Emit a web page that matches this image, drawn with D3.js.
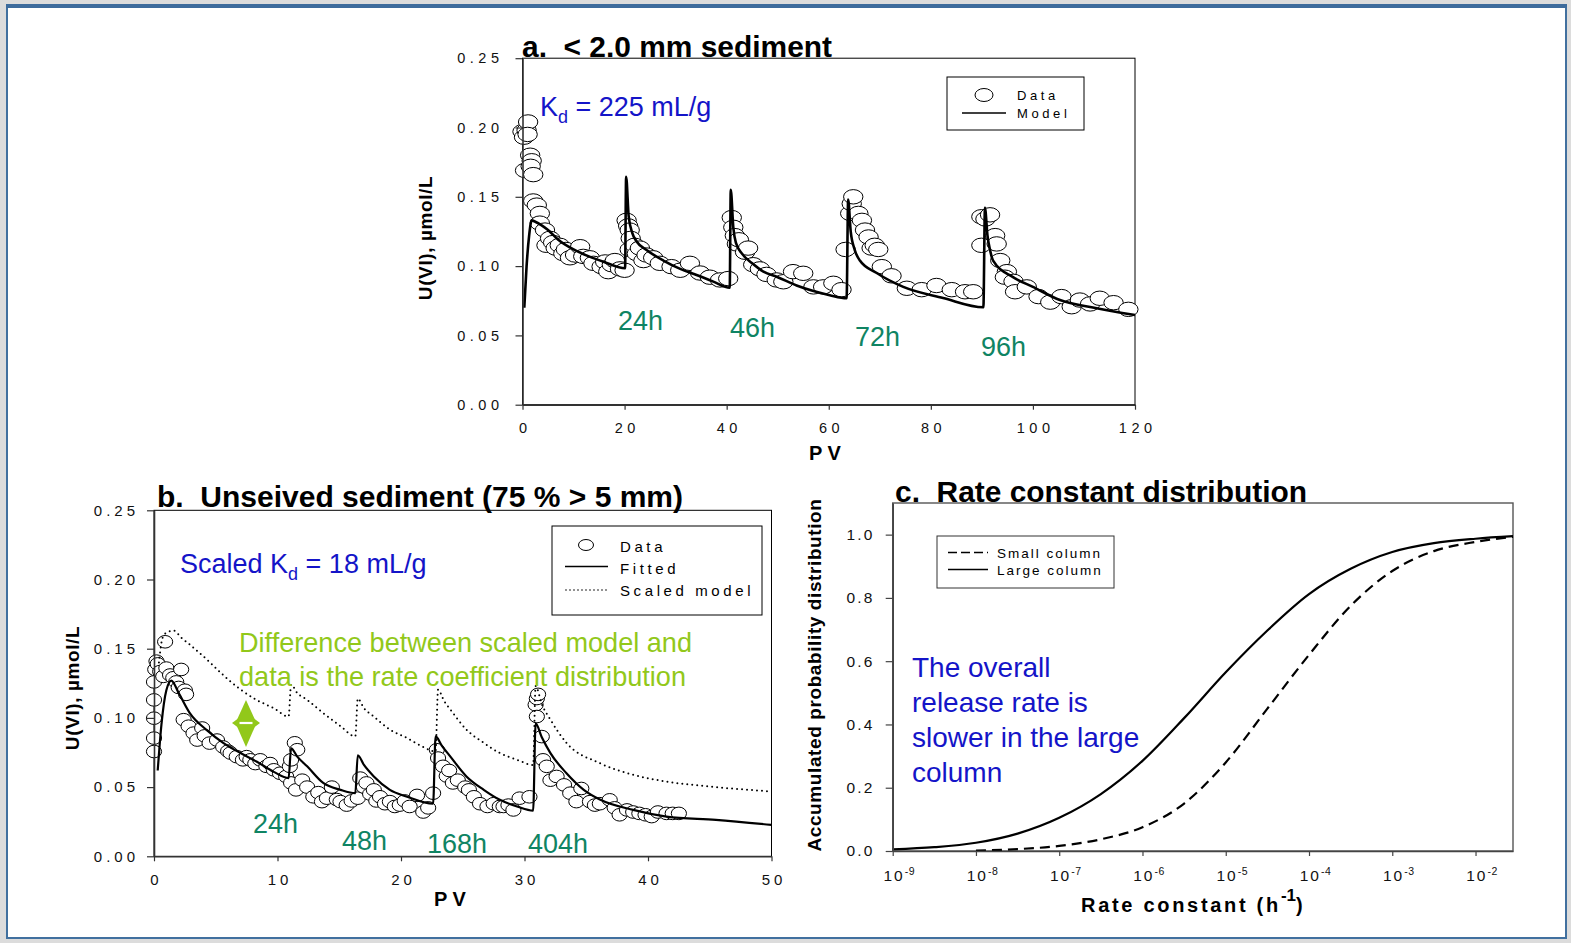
<!DOCTYPE html>
<html>
<head>
<meta charset="utf-8">
<script src="https://cdn.jsdelivr.net/npm/d3@7"></script>
<style>
  body { margin: 0; background: #dcdcdc; }
  svg { display: block; font-family: "Liberation Sans", Arial, sans-serif; }
  text { white-space: pre; }
</style>
</head>
<body>
<div id="chart"></div>
<script>
// ---- panel a: < 2.0 mm sediment ----
const aData = [
  [0.0,0.197],[0.3,0.193],[0.5,0.169],[0.8,0.198],[1.1,0.204],[1.0,0.195],[1.5,0.180],[1.8,0.176],
  [1.6,0.172],[2.1,0.166],[2.1,0.147],[2.8,0.144],[3.4,0.138],[3.4,0.131],[4.4,0.126],[4.7,0.115],
  [5.4,0.120],[6.0,0.117],[6.5,0.113],[7.3,0.115],[8.0,0.109],[8.5,0.112],[9.3,0.106],[10.3,0.108],
  [11.3,0.114],[11.9,0.107],[13.2,0.106],[13.9,0.102],[15.5,0.0996],[16.2,0.103],[16.8,0.096],
  [17.5,0.101],[18.1,0.104],[19.1,0.098],[20.0,0.097],
  [20.4,0.133],[20.7,0.129],[21.0,0.126],[21.2,0.120],[21.0,0.112],[22.0,0.115],[22.4,0.109],
  [23.0,0.113],[23.7,0.104],[24.3,0.108],[25.6,0.106],[26.9,0.102],[29.2,0.0996],[30.9,0.097],
  [32.8,0.102],[34.8,0.095],[36.7,0.092],[38.7,0.090],[40.3,0.091],
  [41.0,0.135],[41.3,0.128],[41.6,0.122],[42.0,0.116],[42.4,0.119],[43.6,0.110],[44.2,0.113],
  [45.2,0.101],[46.5,0.098],[47.8,0.094],[49.8,0.090],[51.1,0.0887],[53.0,0.096],[55.0,0.0948],
  [57.0,0.085],[58.9,0.085],[60.9,0.0876],[62.5,0.083],[63.3,0.112],
  [64.2,0.138],[64.5,0.145],[64.8,0.150],[65.8,0.138],[66.5,0.133],[67.1,0.126],[67.8,0.121],
  [68.4,0.113],[69.0,0.115],[69.7,0.112],[70.4,0.0996],[72.3,0.093],[75.3,0.084],[78.2,0.083],
  [81.1,0.086],[84.1,0.083],[86.7,0.0815],[88.3,0.0815],
  [89.9,0.1356],[90.7,0.134],[91.6,0.137],[89.9,0.115],[92.6,0.122],[92.9,0.116],[93.6,0.104],
  [94.9,0.096],[94.5,0.092],[96.2,0.089],[96.5,0.0815],[98.8,0.085],[101.1,0.078],[103.4,0.074],
  [105.6,0.078],[107.6,0.0707],[109.2,0.0755],[111.2,0.0727],[113.1,0.0768],[115.8,0.0736],[118.7,0.0688]
];
const aModel = [
  [0.35,0.07],[0.8,0.10],[1.3,0.122],[1.8,0.133],[2.5,0.132],[5,0.126],[7,0.119],[10,0.112],
  [13,0.107],[16,0.103],[20.1,0.0985],[20.3,0.1645],[20.8,0.136],[21.5,0.124],[22.4,0.1176],
  [24.3,0.1116],[27.6,0.104],[30.9,0.098],[34.1,0.0936],[37.4,0.0888],[40.6,0.0844],
  [40.8,0.155],[41.3,0.128],[41.8,0.117],[43,0.109],[45,0.102],[47.2,0.096],[50,0.092],
  [53.7,0.086],[57,0.082],[60.2,0.079],[63.5,0.0768],[63.8,0.148],[64.3,0.125],[65.1,0.1116],
  [66.1,0.104],[69.4,0.095],[74.6,0.085],[82.4,0.077],[90.3,0.0703],[90.6,0.142],[91.1,0.122],
  [91.6,0.1116],[92.2,0.104],[96.1,0.092],[100,0.085],[105.3,0.0755],[112,0.070],[120,0.0647]
];
const aXTicks = [0, 20, 40, 60, 80, 100, 120];
const aYTicks = [0, 0.05, 0.10, 0.15, 0.20, 0.25];
const aPulses = ["24h", "46h", "72h", "96h"];

// ---- panel b: unseived sediment ----
const bData = [
  [0.0,0.0757],[0.0,0.0854],[0.0,0.0998],[0.0,0.113],[0.0,0.126],[0.1,0.135],[0.2,0.141],[0.3,0.139],
  [0.9,0.155],[0.5,0.1335],[0.75,0.130],[1.0,0.136],[1.3,0.131],[1.56,0.129],[1.8,0.126],[2.2,0.135],
  [2.0,0.122],[2.5,0.120],[2.6,0.117],[2.4,0.0987],[2.8,0.094],[3.2,0.089],[3.5,0.084],[3.9,0.0927],
  [4.1,0.087],[4.5,0.0818],[5.1,0.084],[5.6,0.079],[6.0,0.076],[6.2,0.0746],[6.7,0.072],[7.2,0.0697],
  [7.5,0.072],[7.8,0.0697],[8.2,0.067],[8.6,0.0697],[9.1,0.065],[9.4,0.067],[9.7,0.0625],[10.2,0.060],
  [10.7,0.0577],[11.0,0.065],[11.1,0.0697],[11.4,0.082],[11.6,0.077],[11.1,0.053],[11.5,0.048],
  [12.0,0.055],[12.4,0.050],[12.9,0.043],[13.3,0.046],[13.6,0.0395],[14.0,0.042],[14.4,0.050],
  [14.8,0.041],[15.1,0.0395],[15.6,0.037],[16.0,0.040],[16.5,0.042],[16.7,0.0565],[17.0,0.050],
  [17.2,0.053],[17.5,0.045],[17.8,0.048],[18.0,0.040],[18.3,0.043],[18.7,0.038],[19.1,0.0395],
  [19.5,0.036],[19.9,0.037],[20.3,0.040],[20.7,0.036],[21.3,0.044],[21.8,0.032],[22.2,0.035],
  [22.6,0.0456],[22.9,0.077],[23.0,0.071],[23.4,0.065],[23.7,0.058],[23.9,0.062],[24.2,0.053],
  [24.6,0.055],[25.2,0.050],[25.5,0.048],[25.9,0.043],[26.4,0.038],[27.0,0.036],[27.5,0.038],
  [28.0,0.036],[28.3,0.036],[28.7,0.037],[29.1,0.0335],[29.6,0.042],[30.4,0.043],[30.9,0.1095],
  [31.0,0.114],[31.1,0.117],[31.0,0.101],[31.4,0.0865],[31.5,0.0697],[31.8,0.065],[32.1,0.055],
  [32.6,0.0577],[33.2,0.0516],[33.7,0.0456],[34.2,0.0395],[34.6,0.049],[35.3,0.0395],[35.7,0.037],
  [36.1,0.038],[36.9,0.0408],[37.3,0.035],[37.7,0.030],[38.3,0.0335],[38.8,0.032],[39.3,0.031],
  [39.8,0.030],[40.3,0.0287],[40.8,0.032],[41.5,0.031],[42.0,0.031],[42.5,0.031]
];
const bFitted = [
  [0.3,0.062],[0.6,0.095],[1.0,0.12],[1.4,0.127],[2.0,0.118],[2.9,0.1035],[4.3,0.091],[5.6,0.082],
  [7,0.0746],[8.3,0.0685],[9.7,0.061],[10.9,0.0565],[11.1,0.078],[11.6,0.072],[12.4,0.065],
  [13.7,0.053],[15.1,0.048],[16.3,0.0456],[16.5,0.073],[17.0,0.066],[17.8,0.0577],[19.1,0.048],
  [20.5,0.043],[22.6,0.038],[22.8,0.0866],[23.3,0.080],[24,0.072],[25.3,0.0577],[26.7,0.048],
  [28,0.0408],[29.4,0.036],[30.7,0.033],[30.9,0.096],[31.4,0.086],[32.1,0.0746],[33.4,0.060],
  [34.8,0.048],[36.1,0.041],[38.8,0.0335],[41.5,0.0287],[45.5,0.0263],[50,0.0227]
];
const bScaled = [
  [0.4,0.140],[0.7,0.158],[1.1,0.162],[1.6,0.163],[2.2,0.158],[2.9,0.153],[4.3,0.142],[5.6,0.131],
  [7,0.1206],[8.3,0.113],[9.7,0.107],[10.9,0.101],[11.1,0.124],[11.6,0.118],[12.4,0.113],
  [13.7,0.1035],[15.1,0.094],[16.3,0.0866],[16.5,0.114],[17.0,0.107],[17.8,0.101],[19.1,0.0915],
  [20.5,0.0854],[21.8,0.079],[22.8,0.0757],[23.0,0.1204],[23.5,0.112],[24,0.106],[25.3,0.0915],
  [26.7,0.082],[28,0.0746],[29.4,0.0697],[30.7,0.066],[30.9,0.123],[31.4,0.11],[32.1,0.0987],
  [33.4,0.082],[36.1,0.0673],[38.8,0.0589],[41.5,0.054],[45.5,0.050],[50,0.0468]
];
const bXTicks = [0, 10, 20, 30, 40, 50];
const bYTicks = [0, 0.05, 0.10, 0.15, 0.20, 0.25];
const bPulses = ["24h", "48h", "168h", "404h"];

// ---- panel c: rate constant distribution (log10 k, cumulative) ----
const cLargeLogK = [-9,-8.5,-8,-7.5,-7,-6.5,-6,-5.5,-5,-4.5,-4,-3.5,-3,-2.5,-2,-1.55];
const cLarge     = [0.005,0.012,0.026,0.055,0.105,0.18,0.285,0.42,0.565,0.697,0.812,0.892,0.945,0.973,0.987,0.995];
const cSmallLogK = [-8,-7.5,-7,-6.5,-6,-5.5,-5,-4.5,-4,-3.5,-3,-2.5,-2,-1.55];
const cSmall     = [0.001,0.006,0.016,0.037,0.075,0.15,0.28,0.45,0.62,0.775,0.885,0.948,0.977,0.993];
const cXTicks = [1e-9, 1e-8, 1e-7, 1e-6, 1e-5, 1e-4, 1e-3, 1e-2];
const cYTicks = [0, 0.2, 0.4, 0.6, 0.8, 1.0];

const blue = "#1414c8", teal = "#0f8463", lime = "#92c81a";

const svg = d3.select("#chart").append("svg")
  .attr("width", 1571)
  .attr("height", 943);

// slide frame
svg.append("rect")
  .attr("x", 7).attr("y", 6).attr("width", 1559).attr("height", 932)
  .attr("fill", "#fff").attr("stroke", "#41709f").attr("stroke-width", 2);
svg.append("rect")
  .attr("x", 6).attr("y", 4).attr("width", 1561).attr("height", 4)
  .attr("fill", "#3d6b9c");

function styleAxis(g, size, ls, color) {
  g.attr("font-family", null).attr("font-size", null);
  g.select(".domain").attr("stroke", color).attr("stroke-width", 1.6);
  g.selectAll(".tick line").attr("stroke", color).attr("stroke-width", 1.2);
  g.selectAll(".tick text").attr("font-size", size).attr("letter-spacing", ls).attr("fill", "#111");
}

function addText(x, y, str, opts) {
  const t = svg.append("text").attr("x", x).attr("y", y).text(str)
    .attr("font-size", opts.size || 20)
    .attr("fill", opts.color || "#000");
  if (opts.bold) t.attr("font-weight", "bold");
  if (opts.len) t.attr("textLength", opts.len).attr("lengthAdjust", "spacingAndGlyphs");
  if (opts.ls) t.attr("letter-spacing", opts.ls);
  if (opts.anchor) t.attr("text-anchor", opts.anchor);
  return t;
}

function yTitle(x, y, str, size) {
  svg.append("text")
    .attr("transform", "translate(" + x + "," + y + ") rotate(-90)")
    .attr("text-anchor", "middle")
    .attr("font-weight", "bold")
    .attr("font-size", size)
    .attr("letter-spacing", 0.6)
    .text(str);
}

// ================= panel a =================
const ax = d3.scaleLinear().domain([0, 120]).range([522.5, 1135]);
const ay = d3.scaleLinear().domain([0, 0.25]).range([404.7, 58.2]);

svg.append("rect")
  .attr("x", ax(0)).attr("y", ay(0.25))
  .attr("width", ax(120) - ax(0)).attr("height", ay(0) - ay(0.25))
  .attr("fill", "none").attr("stroke", "#000").attr("stroke-width", 1);

svg.append("g").selectAll("ellipse").data(aData).enter()
  .append("ellipse")
  .attr("cx", d => ax(d[0])).attr("cy", d => ay(d[1]))
  .attr("rx", 9.7).attr("ry", 7.2)
  .attr("fill", "#fff").attr("stroke", "#000").attr("stroke-width", 1);

svg.append("path").datum(aModel)
  .attr("fill", "none").attr("stroke", "#000").attr("stroke-width", 2.6)
  .attr("d", d3.line().x(d => ax(d[0])).y(d => ay(d[1])).curve(d3.curveMonotoneX));

const aLeft = svg.append("g").attr("transform", "translate(" + ax(0) + ",0)")
  .call(d3.axisLeft(ay).tickValues(aYTicks).tickSize(7).tickSizeOuter(0).tickPadding(12)
    .tickFormat(d3.format(".2f")));
styleAxis(aLeft, 14.5, 4.5, "#333");
const aBottom = svg.append("g").attr("transform", "translate(0," + ay(0) + ")")
  .call(d3.axisBottom(ax).tickValues(aXTicks).tickSize(5).tickSizeOuter(0).tickPadding(13));
styleAxis(aBottom, 14.5, 4.5, "#333");
aBottom.selectAll(".tick text").attr("dx", 2.2);

addText(522, 57, "a.  < 2.0 mm sediment", { size: 30, bold: true, len: 310 });
yTitle(432, 238, "U(VI), µmol/L", 19);
addText(825, 460, "P V", { size: 20, bold: true, anchor: "middle" });

const kdA = addText(540, 116, "K", { size: 27, color: blue });
kdA.append("tspan").attr("font-size", 18).attr("dy", 7).text("d");
kdA.append("tspan").attr("dy", -7).text(" = 225 mL/g");

[[618, 330], [730, 337], [855, 346], [981, 356]].forEach((p, i) =>
  addText(p[0], p[1], aPulses[i], { size: 28, color: teal, len: 45 }));

// legend a
svg.append("rect").attr("x", 947).attr("y", 77).attr("width", 137).attr("height", 53)
  .attr("fill", "#fff").attr("stroke", "#000").attr("stroke-width", 1);
svg.append("ellipse").attr("cx", 984).attr("cy", 95).attr("rx", 9).attr("ry", 6.5)
  .attr("fill", "#fff").attr("stroke", "#000");
svg.append("line").attr("x1", 962).attr("x2", 1006).attr("y1", 113).attr("y2", 113)
  .attr("stroke", "#000").attr("stroke-width", 1.6);
addText(1017, 100, "Data", { size: 13, ls: 3.6 });
addText(1017, 118, "Model", { size: 13, ls: 3.6 });

// ================= panel b =================
const bx = d3.scaleLinear().domain([0, 50]).range([154, 771.5]);
const by = d3.scaleLinear().domain([0, 0.25]).range([856.3, 510.3]);

svg.append("rect")
  .attr("x", bx(0)).attr("y", by(0.25))
  .attr("width", bx(50) - bx(0)).attr("height", by(0) - by(0.25))
  .attr("fill", "none").attr("stroke", "#000").attr("stroke-width", 1);

svg.append("g").selectAll("ellipse").data(bData).enter()
  .append("ellipse")
  .attr("cx", d => bx(d[0])).attr("cy", d => by(d[1]))
  .attr("rx", 7.6).attr("ry", 6.3)
  .attr("fill", "#fff").attr("stroke", "#000").attr("stroke-width", 1);

svg.append("path").datum(bScaled)
  .attr("fill", "none").attr("stroke", "#000").attr("stroke-width", 2)
  .attr("stroke-dasharray", "0,5").attr("stroke-linecap", "round")
  .attr("d", d3.line().x(d => bx(d[0])).y(d => by(d[1])).curve(d3.curveMonotoneX));

svg.append("path").datum(bFitted)
  .attr("fill", "none").attr("stroke", "#000").attr("stroke-width", 2.2)
  .attr("d", d3.line().x(d => bx(d[0])).y(d => by(d[1])).curve(d3.curveMonotoneX));

const bLeft = svg.append("g").attr("transform", "translate(" + bx(0) + ",0)")
  .call(d3.axisLeft(by).tickValues(bYTicks).tickSize(7).tickSizeOuter(0).tickPadding(8)
    .tickFormat(d3.format(".2f")));
styleAxis(bLeft, 15, 4, "#333");
const bBottom = svg.append("g").attr("transform", "translate(0," + by(0) + ")")
  .call(d3.axisBottom(bx).tickValues(bXTicks).tickSize(5).tickSizeOuter(0).tickPadding(13));
styleAxis(bBottom, 15, 4, "#333");
bBottom.selectAll(".tick text").attr("dx", 2);

addText(157, 507, "b.  Unseived sediment (75 % > 5 mm)", { size: 30, bold: true, len: 526 });
yTitle(79, 688, "U(VI), µmol/L", 19);
addText(450, 906, "P V", { size: 20, bold: true, anchor: "middle" });

const kdB = addText(180, 573, "Scaled K", { size: 27, color: blue });
kdB.append("tspan").attr("font-size", 18).attr("dy", 7).text("d");
kdB.append("tspan").attr("dy", -7).text(" = 18 mL/g");

addText(239, 652, "Difference between scaled model and", { size: 28, color: lime, len: 453 });
addText(239, 686, "data is the rate coefficient distribution", { size: 28, color: lime, len: 447 });

// green double arrow
svg.append("polygon")
  .attr("points", "246,700 256.5,723 246,747 235.5,723")
  .attr("fill", lime);
svg.append("line").attr("x1", 238).attr("x2", 254).attr("y1", 723).attr("y2", 723)
  .attr("stroke", "#fff").attr("stroke-width", 2.2);
svg.append("polygon").attr("points", "232,723 239.5,717.5 239.5,728.5").attr("fill", lime);
svg.append("polygon").attr("points", "260,723 252.5,717.5 252.5,728.5").attr("fill", lime);

[[253, 833], [342, 850], [427, 853], [528, 853]].forEach((p, i) =>
  addText(p[0], p[1], bPulses[i], { size: 28, color: teal, len: bPulses[i].length * 15 }));

// legend b
svg.append("rect").attr("x", 552).attr("y", 526).attr("width", 210).attr("height", 89)
  .attr("fill", "#fff").attr("stroke", "#000").attr("stroke-width", 1);
svg.append("ellipse").attr("cx", 586).attr("cy", 545).attr("rx", 7.5).attr("ry", 5.5)
  .attr("fill", "#fff").attr("stroke", "#000");
svg.append("line").attr("x1", 565).attr("x2", 608).attr("y1", 566.5).attr("y2", 566.5)
  .attr("stroke", "#000").attr("stroke-width", 1.6);
svg.append("line").attr("x1", 566).attr("x2", 608).attr("y1", 590).attr("y2", 590)
  .attr("stroke", "#000").attr("stroke-width", 1.6)
  .attr("stroke-dasharray", "0,4").attr("stroke-linecap", "round");
addText(620, 552, "Data", { size: 15, ls: 3.6 });
addText(620, 574, "Fitted", { size: 15, ls: 3.6 });
addText(620, 596, "Scaled model", { size: 15, ls: 3.6 });

// ================= panel c =================
const cx = d3.scaleLog().domain([1e-9, Math.pow(10, -1.55)]).range([892.7, 1513]);
const cy = d3.scaleLinear().domain([0, 1.1]).range([851, 503]);

svg.append("rect")
  .attr("x", cx.range()[0]).attr("y", cy(1.1))
  .attr("width", cx.range()[1] - cx.range()[0]).attr("height", cy(0) - cy(1.1))
  .attr("fill", "none").attr("stroke", "#555").attr("stroke-width", 1.4);

const cLine = d3.line().x(d => cx(Math.pow(10, d[0]))).y(d => cy(d[1])).curve(d3.curveMonotoneX);
svg.append("path").datum(cLargeLogK.map((k, i) => [k, cLarge[i]]))
  .attr("fill", "none").attr("stroke", "#000").attr("stroke-width", 2.2)
  .attr("d", cLine);
svg.append("path").datum(cSmallLogK.map((k, i) => [k, cSmall[i]]))
  .attr("fill", "none").attr("stroke", "#000").attr("stroke-width", 2.2)
  .attr("stroke-dasharray", "10,6")
  .attr("d", cLine);

const cLeft = svg.append("g").attr("transform", "translate(" + cx.range()[0] + ",0)")
  .call(d3.axisLeft(cy).tickValues(cYTicks).tickSize(7).tickSizeOuter(0).tickPadding(11)
    .tickFormat(d3.format(".1f")));
styleAxis(cLeft, 15.5, 2.2, "#444");
const cBottom = svg.append("g").attr("transform", "translate(0," + cy(0) + ")")
  .call(d3.axisBottom(cx).tickValues(cXTicks).tickSize(5).tickSizeOuter(0).tickPadding(14));
styleAxis(cBottom, 15.5, 2, "#444");
cBottom.selectAll(".tick text").each(function (d) {
  const t = d3.select(this);
  t.text("").attr("dx", 6);
  t.append("tspan").text("10");
  t.append("tspan").attr("font-size", 10.5).attr("dy", -6).attr("letter-spacing", 0.5)
    .text(Math.round(Math.log10(d)));
});

addText(895, 502, "c.  Rate constant distribution", { size: 30, bold: true, len: 412 });
yTitle(821, 675, "Accumulated probability distribution", 19);
const cXT = addText(1081, 912, "Rate constant (h", { size: 20, bold: true, ls: 2.7 });
cXT.append("tspan").attr("font-size", 17).attr("dy", -11).attr("letter-spacing", 0).text("-1");
cXT.append("tspan").attr("dy", 11).text(")");

["The overall", "release rate is", "slower in the large", "column"].forEach((s, i) =>
  addText(912, 677 + i * 35, s, { size: 28, color: blue }));

// legend c
svg.append("rect").attr("x", 937).attr("y", 536).attr("width", 177).attr("height", 52)
  .attr("fill", "#fff").attr("stroke", "#333").attr("stroke-width", 1);
svg.append("line").attr("x1", 948).attr("x2", 988).attr("y1", 552.5).attr("y2", 552.5)
  .attr("stroke", "#000").attr("stroke-width", 1.6).attr("stroke-dasharray", "9,4");
svg.append("line").attr("x1", 948).attr("x2", 988).attr("y1", 569.5).attr("y2", 569.5)
  .attr("stroke", "#000").attr("stroke-width", 1.6);
addText(997, 557.5, "Small column", { size: 13.5, ls: 2 });
addText(997, 574.5, "Large column", { size: 13.5, ls: 2 });
</script>
</body>
</html>
